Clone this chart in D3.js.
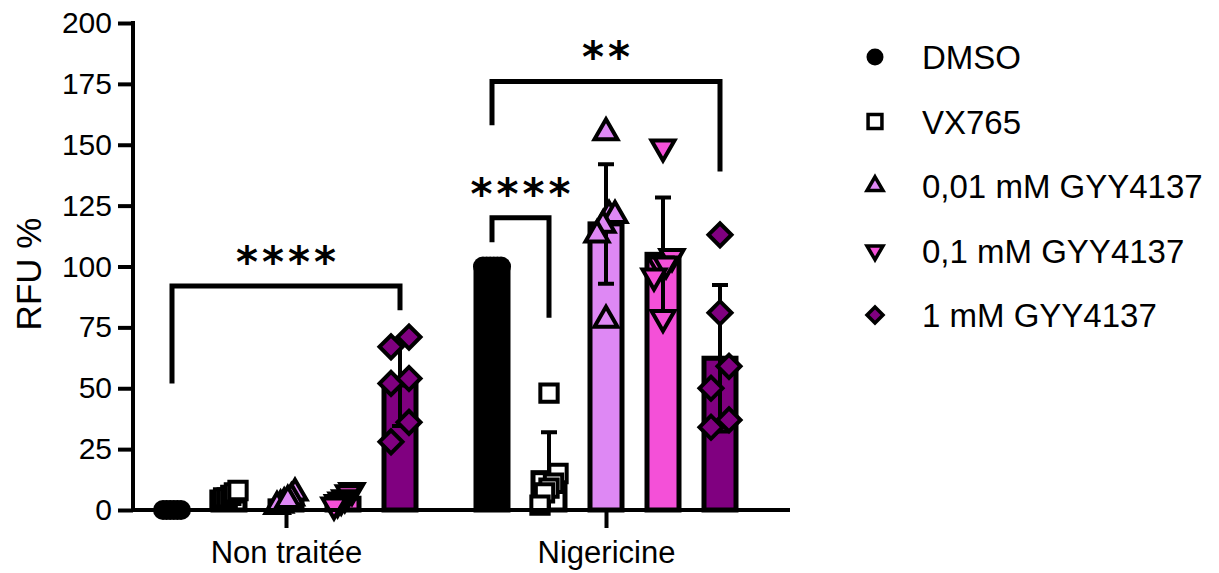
<!DOCTYPE html>
<html>
<head>
<meta charset="utf-8">
<script src="https://cdn.jsdelivr.net/npm/d3@7"></script>
<style>
  body { margin: 0; background: #fff; }
  text { font-family: "Liberation Sans", Arial, sans-serif; }
</style>
</head>
<body>
<div id="chart"></div>
<script>
// data
const groups = ["Non traitée", "Nigericine"];
const treatments = ["DMSO", "VX765", "0,01 mM GYY4137", "0,1 mM GYY4137", "1 mM GYY4137"];
const yTicks = [0, 25, 50, 75, 100, 125, 150, 175, 200];

const dmsoValues  = [[0, 0, 0, 0, 0, 0], [100, 100, 100, 100, 100, 100]];
const vx765Values = [[4, 5, 5, 6, 7, 8], [48, 15, 11, 9, 7, 2]];
const gyy001Values = [[7, 5, 3, 2, 1.5, 4], [155, 121, 121, 117, 113, 78]];
const gyy01Values  = [[8, 7, 5, 4, 3, 2], [149, 104, 101, 101, 96, 79]];
const gyy1Values   = [[67, 71, 52, 54, 36, 28], [113, 81, 59, 50, 37, 34]];

const seriesValues = [dmsoValues, vx765Values, gyy001Values, gyy01Values, gyy1Values];

// significance brackets (y in RFU units)
const bracketGroups = ["Non traitée", "Nigericine", "Nigericine"];
const bracketFrom = ["DMSO", "DMSO", "DMSO"];
const bracketTo = ["1 mM GYY4137", "VX765", "1 mM GYY4137"];
const bracketTop = [92, 120, 176];
const bracketLeftEnd = [52, 110, 158];
const bracketRightEnd = [82, 79, 139];
const bracketLabels = ["****", "****", "**"];

// styles
const fills = ["#000000", "#ffffff", "#de88f4", "#f450d8", "#800080"];
const shapes = ["circle", "square", "up", "down", "diamond"];

const width = 1219, height = 573;
const svg = d3.select("#chart").append("svg")
  .attr("width", width)
  .attr("height", height);

const yScale = d3.scaleLinear().domain([0, 200]).range([510, 23]);
const xGroup = d3.scalePoint().domain(groups).range([286, 606]);
const xTreat = d3.scalePoint().domain(treatments).range([-114, 114]);
const xPos = (g, t) => xGroup(g) + xTreat(t);

const axisX0 = 133, axisX1 = 790;

// symbol paths
function symbolPath(shape, s) {
  if (shape === "circle") return d3.symbol(d3.symbolCircle, Math.PI * s * s / 4)();
  if (shape === "square") return d3.symbol(d3.symbolSquare, s * s * 0.75)();
  if (shape === "diamond") return d3.symbol(d3.symbolSquare, s * s * 0.5)();
  return d3.symbol(d3.symbolTriangle, Math.sqrt(3) / 4 * s * s)();
}
function symbolTransform(shape, x, y) {
  if (shape === "diamond") return `translate(${x},${y}) rotate(45)`;
  if (shape === "down") return `translate(${x},${y}) rotate(180)`;
  return `translate(${x},${y})`;
}

// horizontal spread of overlapping points
function spreadPoints(values) {
  const pts = values.map((v, i) => ({ v: v, py: yScale(v), i: i }));
  const sorted = pts.slice().sort((a, b) => b.py - a.py);
  const rows = [];
  sorted.forEach((p, k) => {
    if (k > 0 && Math.abs(p.py - sorted[k - 1].py) < 22) rows[rows.length - 1].push(p);
    else rows.push([p]);
  });
  rows.forEach(r => {
    r.forEach((p, k) => { p.dx = r.length > 1 ? -9 + 18 * k / (r.length - 1) : 0; });
  });
  return pts;
}

// y axis
const yAxis = d3.axisLeft(yScale).tickValues(yTicks).tickSize(15).tickSizeOuter(0).tickPadding(6);
const gy = svg.append("g")
  .attr("transform", `translate(${axisX0},0)`)
  .call(yAxis);
gy.select(".domain").attr("stroke-width", 4).attr("d", `M0,${yScale(200) - 2}V${yScale(0) + 2}`);
gy.selectAll(".tick line").attr("stroke-width", 4);
gy.selectAll(".tick text").attr("font-size", "30px").attr("fill", "#000")
  .style("font-family", "'Liberation Sans', Arial, sans-serif");

svg.append("text")
  .attr("transform", "rotate(-90)")
  .attr("x", -274)
  .attr("y", 41)
  .attr("font-size", "35px")
  .style("text-anchor", "middle")
  .text("RFU %");

// bars, error bars, points
const barW = 32;
treatments.forEach((t, ti) => {
  groups.forEach((g, gi) => {
    const vals = seriesValues[ti][gi];
    const m = d3.mean(vals);
    const sd = d3.deviation(vals);
    const cx = xPos(g, t);

    svg.append("rect")
      .attr("x", cx - barW / 2)
      .attr("y", yScale(m))
      .attr("width", barW)
      .attr("height", yScale(0) - yScale(m))
      .attr("fill", fills[ti])
      .attr("stroke", "#000")
      .attr("stroke-width", 5);

    if (sd > 0) {
      const lo = Math.max(0, m - sd), hi = m + sd;
      svg.append("path")
        .attr("d", `M${cx},${yScale(lo)}V${yScale(hi)}M${cx - 8},${yScale(hi)}H${cx + 8}` +
          (m - sd > 0 ? `M${cx - 8},${yScale(lo)}H${cx + 8}` : ""))
        .attr("fill", "none")
        .attr("stroke", "#000")
        .attr("stroke-width", 4);
    }

    const pts = spreadPoints(vals);
    const size = shapes[ti] === "circle" ? 20 : (shapes[ti] === "square" ? 20 : 23);
    svg.append("g").selectAll("path")
      .data(pts)
      .enter()
      .append("path")
      .attr("d", symbolPath(shapes[ti], size))
      .attr("transform", d => symbolTransform(shapes[ti], cx + d.dx, d.py))
      .attr("fill", fills[ti])
      .attr("stroke", "#000")
      .attr("stroke-width", shapes[ti] === "circle" ? 0 : 4)
      .attr("stroke-linejoin", "miter");
  });
});

// x axis
const xAxis = d3.axisBottom(xGroup).tickSize(18).tickSizeOuter(0).tickPadding(0);
const gx = svg.append("g")
  .attr("transform", `translate(0,${yScale(0)})`)
  .call(xAxis);
gx.select(".domain").attr("stroke-width", 4).attr("d", `M${axisX0 - 2},0H${axisX1}`);
gx.selectAll(".tick line").attr("stroke-width", 4);
gx.selectAll(".tick text")
  .attr("y", 53)
  .attr("dy", 0)
  .attr("font-size", "31px")
  .attr("fill", "#000")
  .style("font-family", "'Liberation Sans', Arial, sans-serif");

// significance brackets
bracketLabels.forEach((lab, i) => {
  const x1 = xPos(bracketGroups[i], bracketFrom[i]);
  const x2 = xPos(bracketGroups[i], bracketTo[i]);
  const yt = yScale(bracketTop[i]);
  svg.append("path")
    .attr("d", `M${x1},${yScale(bracketLeftEnd[i])}V${yt}H${x2}V${yScale(bracketRightEnd[i])}`)
    .attr("fill", "none")
    .attr("stroke", "#000")
    .attr("stroke-width", 5)
    .attr("stroke-linejoin", "miter");
  svg.append("text")
    .attr("x", (x1 + x2) / 2 + 2)
    .attr("y", yt - 30 + 21)
    .attr("font-size", "42px")
    .attr("font-weight", "bold")
    .style("font-family", "'DejaVu Sans', sans-serif")
    .style("letter-spacing", "4px")
    .style("text-anchor", "middle")
    .text(lab);
});

// legend
const legendY = d3.scalePoint().domain(treatments).range([57, 315]);
treatments.forEach((t, ti) => {
  const ly = legendY(t);
  const s = shapes[ti] === "circle" ? 17 : 16;
  svg.append("path")
    .attr("d", symbolPath(shapes[ti], s))
    .attr("transform", symbolTransform(shapes[ti], 875, ly))
    .attr("fill", fills[ti])
    .attr("stroke", "#000")
    .attr("stroke-width", shapes[ti] === "circle" ? 0 : 3.5);
  svg.append("text")
    .attr("x", 922)
    .attr("y", ly + 12)
    .attr("font-size", "33px")
    .text(t);
});
</script>
</body>
</html>
